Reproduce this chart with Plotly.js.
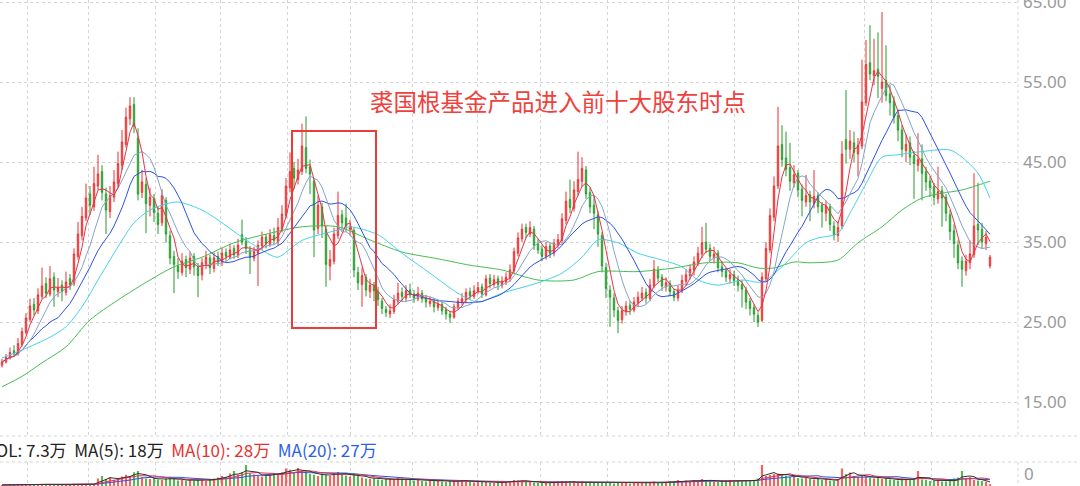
<!DOCTYPE html>
<html><head><meta charset="utf-8">
<script src="https://cdn.plot.ly/plotly-3.0.1.min.js"></script>
<style>html,body{margin:0;padding:0;background:#fff;overflow:hidden}#chart{width:1080px;height:486px}</style>
</head><body><div id="chart"></div>
<script>
// ---- price data (one candle per trading day) ----
const openP = [
19.6,20.0,20.5,21.4,21.0,22.2,23.7,25.3,27.2,26.4,
28.2,29.8,28.5,30.6,28.8,29.6,28.7,30.4,29.8,33.2,
35.8,38.0,41.0,39.4,42.0,43.8,41.0,38.8,40.6,42.3,
44.6,47.2,50.4,52.2,48.0,41.2,42.2,39.6,40.4,38.6,
37.4,40.2,35.8,33.2,32.0,31.2,32.8,31.6,33.2,31.8,
30.9,32.2,33.0,31.7,33.2,32.4,33.7,33.1,34.2,33.3,
35.9,35.1,34.0,33.0,33.6,34.5,35.6,34.7,35.8,35.0,
36.6,38.3,41.8,44.2,42.8,43.8,46.8,44.4,42.6,36.7,
39.4,36.6,32.0,32.6,35.8,38.4,38.0,36.6,36.4,31.2,
29.7,30.6,28.8,29.6,28.8,27.6,26.6,26.0,26.3,27.6,
28.7,28.0,29.0,28.5,27.9,28.6,28.0,27.3,27.6,26.8,
27.2,26.5,26.0,25.6,26.8,27.5,27.8,28.8,28.2,28.8,
29.4,28.4,30.5,29.7,30.4,29.6,30.0,30.5,31.4,33.6,
35.4,36.8,36.0,36.6,34.8,34.1,33.2,34.5,33.6,34.6,
35.2,37.7,40.3,39.2,41.3,42.6,44.0,41.2,39.6,38.4,
35.8,31.8,29.0,28.0,26.4,25.3,26.3,27.1,26.5,27.4,
28.0,28.7,27.9,29.5,31.5,30.6,29.4,29.8,28.8,28.0,
28.9,30.1,30.8,31.5,32.4,33.5,35.0,34.2,33.0,33.6,
31.9,31.4,30.4,30.9,30.3,29.7,29.0,27.6,26.8,25.8,
25.2,30.4,34.0,38.1,42.0,47.2,45.5,44.3,42.4,43.6,
41.6,40.0,40.9,39.8,40.8,39.6,38.6,39.4,37.0,35.8,
37.0,47.8,46.6,47.4,46.0,47.0,52.4,57.4,55.8,56.6,
54.2,55.2,53.5,52.6,50.8,49.0,46.4,47.4,45.8,44.6,
45.4,43.8,42.6,41.9,40.4,41.4,40.6,38.4,36.4,34.6,
32.6,31.4,32.4,33.4,37.2,36.6,34.8,32.0];
const highP = [
20.4,21.0,21.8,22.1,23.0,24.3,26.1,27.9,28.0,29.2,
31.8,30.6,32.0,31.2,30.5,30.2,31.3,31.0,34.2,37.5,
39.4,42.3,42.0,44.4,45.9,44.6,41.8,42.0,44.0,46.3,
49.0,51.8,53.1,53.1,49.2,44.0,43.0,41.8,41.0,39.4,
41.6,40.6,36.4,33.9,33.0,33.6,33.3,33.8,33.6,32.4,
33.0,33.9,33.4,33.7,33.8,34.3,34.2,34.8,34.6,35.4,
37.8,35.6,34.5,34.4,35.2,36.3,36.0,36.6,36.8,38.0,
39.6,43.0,46.2,45.0,45.4,49.8,50.7,45.3,43.0,40.8,
39.9,37.0,34.0,36.8,41.3,39.0,39.8,37.8,36.8,31.9,
31.8,31.0,30.4,30.0,29.4,28.0,27.0,27.2,28.4,29.9,
29.3,29.6,29.8,29.0,29.4,29.0,28.4,28.2,28.0,27.8,
27.5,26.9,26.4,27.3,28.0,28.6,29.2,29.3,29.6,30.0,
29.8,30.9,31.0,30.9,30.8,30.7,31.2,32.2,34.3,36.2,
37.3,37.3,37.6,37.0,35.4,34.6,35.0,34.9,35.4,36.0,
38.6,41.3,42.8,42.6,46.3,45.6,44.5,41.8,40.8,38.9,
36.2,32.4,29.6,28.6,26.9,27.0,27.6,27.6,28.1,28.8,
29.4,29.2,30.4,32.75,32.0,31.0,30.6,30.2,29.2,29.6,
30.9,31.6,32.2,33.2,34.4,36.9,37.4,34.8,34.4,34.0,
32.6,31.8,31.6,31.4,30.8,30.2,29.4,28.0,27.2,26.2,
31.2,35.0,39.2,43.2,51.9,49.6,48.8,47.4,44.6,44.0,
42.2,43.4,41.4,44.0,41.2,40.0,40.2,39.8,37.6,37.6,
47.6,54.0,49.0,48.8,48.0,57.8,60.25,62.1,60.4,61.2,
63.75,59.6,54.6,53.2,51.6,49.6,48.4,48.2,46.4,48.6,
47.2,44.4,43.2,42.4,44.4,42.0,41.0,39.0,37.2,35.2,
33.2,33.4,35.2,43.6,42.4,37.4,36.4,33.4];
const lowP = [
19.3,19.8,20.3,20.6,20.8,21.9,23.4,25.0,25.8,26.0,
27.9,28.0,28.2,26.9,28.1,27.6,28.3,29.0,29.5,32.8,
35.2,37.6,38.4,38.9,41.5,40.2,36.0,38.0,40.0,41.8,
44.0,46.8,49.6,48.6,40.2,40.5,36.1,38.2,37.5,36.0,
37.0,34.9,32.2,28.6,30.4,30.8,30.6,31.0,30.8,28.1,
30.2,31.6,31.0,31.2,32.0,32.0,32.6,32.8,32.9,33.0,
34.6,33.5,31.0,32.6,29.5,34.0,34.2,34.4,34.7,34.6,
36.2,38.0,41.2,41.6,42.2,43.4,43.6,41.0,33.1,36.0,
35.5,29.4,30.2,32.2,35.4,36.4,36.3,35.8,30.6,29.0,
26.9,28.2,28.0,27.6,27.0,26.0,25.6,25.5,26.0,27.2,
27.6,27.6,28.0,27.4,27.6,27.4,26.8,26.9,26.2,26.4,
25.9,25.3,24.9,25.4,26.5,27.1,27.4,27.8,27.9,28.5,
28.0,28.2,29.2,29.4,29.0,29.2,29.6,30.0,31.0,33.2,
35.0,35.5,35.6,34.0,33.5,32.6,32.8,33.0,33.2,34.2,
34.8,37.2,38.6,38.8,40.8,41.9,40.4,38.6,36.6,34.4,
31.2,28.0,24.4,25.6,23.6,24.8,25.8,25.9,26.2,27.0,
27.6,27.3,27.6,29.2,30.0,28.9,28.8,28.2,27.6,27.6,
28.6,29.6,30.3,30.8,32.0,33.0,33.6,32.6,32.3,31.2,
30.6,30.0,29.8,29.5,28.8,26.8,26.6,25.8,25.0,24.4,
25.0,30.0,33.6,37.6,41.6,44.4,43.2,41.4,41.8,40.6,
38.2,39.4,37.6,39.2,38.6,36.8,37.6,36.4,35.2,35.0,
36.6,44.8,45.4,45.0,43.2,46.6,52.0,55.2,54.6,53.0,
52.4,52.6,50.8,49.8,47.6,45.6,45.0,44.6,40.4,43.8,
40.2,41.4,40.6,39.6,39.8,36.9,37.6,35.2,33.0,31.6,
29.4,30.8,31.6,33.0,34.6,34.2,34.0,31.7];
const closeP = [
20.0,20.6,21.2,21.0,22.3,23.8,25.5,27.0,26.5,28.4,
29.5,28.6,30.4,29.0,29.3,28.8,30.0,29.7,33.5,36.0,
38.2,40.5,39.6,42.3,43.5,41.2,39.0,40.8,42.5,44.8,
47.5,50.6,52.0,49.5,41.0,42.5,39.8,40.6,38.7,37.2,
40.8,36.0,33.0,32.2,31.3,32.6,31.8,33.0,31.9,30.8,
32.4,33.1,31.8,33.0,32.5,33.6,33.2,34.0,33.4,34.6,
35.0,34.2,33.1,33.8,34.6,35.6,34.8,35.9,35.2,36.8,
38.5,42.0,43.8,43.0,44.0,47.0,44.2,43.5,36.5,39.6,
37.0,32.2,32.8,36.0,38.3,37.4,37.0,36.8,31.5,29.9,
30.8,29.0,29.6,28.9,27.8,26.7,26.2,26.4,27.8,28.6,
28.2,28.9,28.4,28.0,28.6,27.9,27.5,27.6,26.9,27.2,
26.4,26.0,25.6,26.9,27.6,27.9,28.7,28.3,28.9,29.3,
28.5,30.4,29.8,30.3,29.7,30.1,30.6,31.5,33.8,35.5,
36.6,36.2,36.8,34.6,34.0,33.2,34.4,33.6,34.8,35.3,
37.9,40.1,39.3,41.5,42.8,44.2,41.0,39.4,38.6,36.0,
32.0,29.2,28.1,26.5,25.2,26.4,27.0,26.6,27.5,28.1,
28.6,28.0,29.6,31.6,30.5,29.5,29.9,28.8,28.1,29.0,
30.2,30.9,31.6,32.5,33.6,34.9,34.1,33.2,33.5,31.8,
31.3,30.6,30.9,30.2,29.6,29.1,27.5,26.7,26.0,25.0,
30.6,34.2,38.3,42.0,47.0,45.3,44.1,42.6,43.4,41.5,
40.2,40.8,40.0,40.7,39.4,38.8,39.5,37.2,35.9,36.8,
46.0,46.6,47.6,46.2,47.1,52.5,57.2,56.0,56.4,55.7,
55.0,53.3,52.4,50.6,49.0,46.6,47.2,45.6,44.8,45.3,
43.6,42.5,41.8,40.6,41.3,40.5,38.6,36.3,34.8,32.4,
31.6,32.6,33.5,37.0,36.5,35.0,35.6,33.1];
// volume in 万 shares
const volume = [
4,5,5,4,6,6,7,8,6,7,8,5,6,5,4,5,6,5,9,8,7,8,6,7,
30,40,28,35,25,30,38,45,40,55,60,
35,30,28,32,26,24,30,36,28,22,25,20,24,
22,26,24,20,28,30,34,40,36,50,60,45,55,
84,50,46,40,38,44,48,52,46,55,
70,65,55,72,60,58,48,45,40,50,
45,40,52,56,48,42,38,50,40,34,
30,28,32,26,24,30,28,26,32,30,
24,28,22,26,20,18,22,20,24,18,16,20,
22,18,24,20,16,14,18,20,16,14,12,16,14,18,20,
24,22,18,20,16,14,12,14,12,16,14,18,
20,18,14,16,12,18,14,12,14,16,14,
12,14,10,12,14,12,10,12,14,16,12,14,18,14,12,
16,20,18,24,20,22,18,24,20,28,22,20,18,16,
22,20,24,18,20,22,20,24,22,30,
84,40,44,48,50,46,42,36,44,32,
30,34,28,26,32,24,28,22,20,26,
70,48,54,40,36,44,38,32,30,34,
28,32,26,24,22,30,26,24,28,60,
26,24,20,22,24,18,18,20,30,34,
60,30,36,24,22,20,17,7.3];
// long moving averages (candle index, value)
const ma60Idx = [0,5,12,16,20,25,29,33,37,41,44,50,54,60,64,67,69,75,84,87,94,100,107,114,119,125,134,140,145,149,154,159,165,170,174,179,185,190,195,201,204,209,212,216,220,224,229,237,240,244,247];
const ma60Val = [20.5,21.5,23.1,24.4,26.9,31.1,34.4,37.4,39.0,39.75,40.0,39.0,37.75,35.6,34.3,33.4,33.1,35.2,36.5,36.9,35.9,33.6,31.1,28.6,27.5,28.6,29.9,31.1,33.1,35.25,34.9,33.6,32.75,31.9,30.25,29.6,30.25,30.0,31.9,34.9,35.5,36.1,38.6,42.3,45.6,45.9,46.25,46.5,45.6,43.6,40.5];
const maLongIdx = [0,5,10,16,22,29,37,43,50,58,67,75,84,92,100,109,117,125,134,143,149,159,168,176,184,189,193,198,202,209,214,220,225,230,235,240,247];
const maLongVal = [16.9,18.2,19.9,21.9,25.25,27.75,30.25,31.9,33.1,34.9,36.1,36.9,36.9,35.25,33.75,32.9,32.1,31.5,30.25,30.25,31.3,31.3,31.75,32.4,32.4,31.75,31.75,32.5,32.4,32.75,34.9,36.9,39.0,40.5,41.1,41.5,42.6];
// averaging windows (in drawn candles) for the short / mid / long price averages and the volume averages
const maWindows = [4, 8, 15];
const priceTicks = [15,25,35,45,55,65];
const priceTickText = ['15.00','25.00','35.00','45.00','55.00','65.00'];
const monthGridIdx = [6.25,21.5,38.25,54.5,71.25,87,102.5,118.75,134.5,151.25,166.5,183,199,215.5,232.25];
const noteText = '裘国根基金产品进入前十大股东时点';
const volLabel = 'VOL: 7.3万 \u00a0MA(5): 18万 \u00a0<span style="color:#e8312f">MA(10): 28万</span> \u00a0<span style="color:#2b5fe8">MA(20): 27万</span>';

const idx = closeP.map((_, i) => i);
function movingAvg(arr, n) {
  return arr.map((_, i) => {
    const s = Math.max(0, i - n + 1); let t = 0;
    for (let k = s; k <= i; k++) t += arr[k];
    return t / (i - s + 1);
  });
}
const volColors = closeP.map((c, i) => c >= openP[i] ? 'rgba(240,60,60,0.8)' : 'rgba(50,160,50,0.8)');
const lineTrace = (x, y, color, xa, ya, shape) => ({type:'scatter', mode:'lines', x, y, xaxis:xa, yaxis:ya,
  line:{color, width:1, shape: shape || 'linear', smoothing:0.8}, hoverinfo:'skip'});

const H = 486, W = 1080, PW = 1018;
const mainBot = 436, volTop = 462;
const gridCol = '#d4d4d4';
const traces = [
  {type:'candlestick', x:idx, open:openP, high:highP, low:lowP, close:closeP, xaxis:'x', yaxis:'y',
   increasing:{line:{color:'#ef2e2e', width:1}, fillcolor:'rgba(246,115,115,0.75)'},
   decreasing:{line:{color:'#259a2c', width:1}, fillcolor:'rgba(100,190,100,0.75)'},
   whiskerwidth:0, hoverinfo:'skip'},
  lineTrace(maLongIdx, maLongVal, '#45bf52', 'x', 'y', 'spline'),
  lineTrace(ma60Idx, ma60Val, '#46d2ea', 'x', 'y', 'spline'),
  lineTrace(idx, movingAvg(closeP, maWindows[2]), '#2d52e8', 'x', 'y'),
  lineTrace(idx, movingAvg(closeP, maWindows[1]), '#86a4c9', 'x', 'y'),
  lineTrace(idx, movingAvg(closeP, maWindows[0]), '#e8344a', 'x', 'y'),
  {type:'bar', x:idx, y:volume, xaxis:'x2', yaxis:'y2', marker:{color:volColors, line:{width:0}}, hoverinfo:'skip'},
  lineTrace(idx, movingAvg(volume, maWindows[2]), '#2d52e8', 'x2', 'y2'),
  lineTrace(idx, movingAvg(volume, maWindows[1]), '#e8344a', 'x2', 'y2'),
  lineTrace(idx, movingAvg(volume, maWindows[0]), '#333333', 'x2', 'y2')
];
const fx = px => px / PW, fy = py => 1 - py / H;
const dotLine = (x0, y0, x1, y1) => ({type:'line', xref:'paper', yref:'paper', x0, y0, x1, y1,
  line:{color:gridCol, width:1, dash:'dot'}, layer:'below'});
const layout = {
  width:W, height:H, margin:{l:0, r:W-PW, t:0, b:0, pad:0},
  paper_bgcolor:'#ffffff', plot_bgcolor:'#ffffff', showlegend:false,
  font:{family:'"Noto Sans", "Noto Sans CJK SC", sans-serif'},
  boxgap:0.5, bargap:0.45,
  xaxis:{domain:[0,1], range:[-0.5,254], tickvals:monthGridIdx, showticklabels:false, ticks:'',
    showgrid:true, gridcolor:gridCol, griddash:'dot', gridwidth:1, zeroline:false, showline:false,
    rangeslider:{visible:false}, anchor:'y', fixedrange:true},
  yaxis:{domain:[fy(mainBot),1], range:[10.75,65.25], side:'right', tickvals:priceTicks, ticktext:priceTickText,
    tickfont:{size:17, color:'#9a9a9a', family:'"Noto Sans", sans-serif'}, ticks:'', ticklabelstandoff:4,
    ticklabeloverflow:'allow',
    showgrid:true, gridcolor:gridCol, griddash:'dot', zeroline:false, showline:false, anchor:'x', fixedrange:true},
  xaxis2:{domain:[0,1], range:[-0.5,254], tickvals:monthGridIdx, showticklabels:false, ticks:'',
    showgrid:true, gridcolor:gridCol, griddash:'dot', zeroline:false, showline:false, anchor:'y2', fixedrange:true},
  yaxis2:{domain:[0, fy(volTop)], range:[0,96], showticklabels:false, showgrid:false, zeroline:false,
    showline:false, anchor:'x2', fixedrange:true},
  shapes:[
    dotLine(0, fy(mainBot), W/PW, fy(mainBot)),
    dotLine(0, fy(volTop), W/PW, fy(volTop)),
    dotLine(1, fy(0), 1, fy(mainBot)),
    dotLine(1, fy(volTop), 1, 0),
    {type:'rect', xref:'paper', yref:'paper', x0:fx(292), x1:fx(376), y0:fy(328), y1:fy(131),
     line:{color:'#f03a3a', width:2}, fillcolor:'rgba(0,0,0,0)'}
  ],
  annotations:[
    {xref:'paper', yref:'paper', x:fx(558), y:fy(101), text:noteText, showarrow:false,
     font:{size:23.5, color:'#f0413d', family:'"Noto Sans CJK SC", sans-serif'}, xanchor:'center', yanchor:'middle'},
    {xref:'paper', yref:'paper', x:0, xshift:-16, y:fy(449), text:volLabel, showarrow:false,
     font:{size:17, color:'#222222', family:'"Noto Sans CJK SC", sans-serif'}, xanchor:'left', yanchor:'middle'},
    {xref:'paper', yref:'paper', x:1, xshift:4, y:fy(473), text:'0', showarrow:false,
     font:{size:17, color:'#9a9a9a', family:'"Noto Sans", sans-serif'}, xanchor:'left', yanchor:'middle'}
  ]
};
Plotly.newPlot('chart', traces, layout, {displayModeBar:false, staticPlot:true});
</script>
</body></html>
